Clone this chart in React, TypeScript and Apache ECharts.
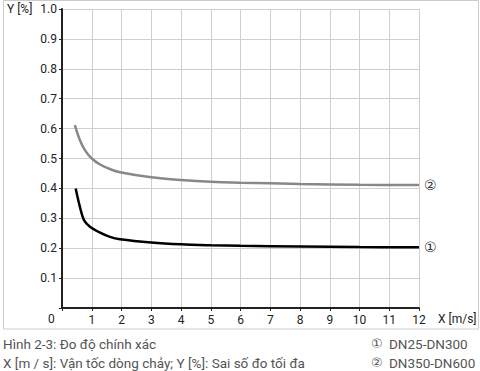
import React, { useEffect, useRef } from "react";
import * as echarts from "echarts";

const xTicks = [0, 1, 2, 3, 4, 5, 6, 7, 8, 9, 10, 11, 12];
const yTicks = [0, 0.1, 0.2, 0.3, 0.4, 0.5, 0.6, 0.7, 0.8, 0.9, 1.0];

const curve1X = [0.46, 0.6, 0.74, 0.94, 1.28, 1.61, 1.95, 3, 4, 5, 6, 8, 10, 12];
const curve1Y = [0.4, 0.339, 0.294, 0.272, 0.252, 0.238, 0.23, 0.219, 0.213, 0.21, 0.208, 0.206, 0.204, 0.203];

const curve2X = [0.43, 0.6, 0.77, 1.0, 1.28, 1.61, 1.95, 3, 4, 5, 6, 8, 10, 12];
const curve2Y = [0.612, 0.562, 0.528, 0.5, 0.48, 0.465, 0.454, 0.437, 0.428, 0.422, 0.419, 0.415, 0.412, 0.411];

const seriesNames = ["DN25-DN300", "DN350-DN600"];
const seriesMarks = ["①", "②"];

const FONT = "Roboto";

export default function App() {
  const ref = useRef<HTMLDivElement>(null);
  useEffect(() => {
    if (!ref.current) return;
    const chart = echarts.init(ref.current, null, { renderer: "svg" });
    const zip = (xs: number[], ys: number[]) => xs.map((x, i) => [x, ys[i]]);
    const endLabel = (mark: string) => ({
      show: true,
      formatter: mark,
      color: "#333",
      fontFamily: "DejaVu Sans",
      fontSize: 14,
      distance: 5,
    });
    const caption = { fontSize: 13.5, fontFamily: FONT, fill: "#555" };
    chart.setOption({
      animation: false,
      textStyle: { fontFamily: FONT },
      grid: { left: 62, top: 9, right: 61, bottom: 63 },
      xAxis: {
        type: "value",
        min: xTicks[0],
        max: xTicks[xTicks.length - 1],
        interval: 1,
        axisLine: { show: true, onZero: false, lineStyle: { color: "#222", width: 2 } },
        axisTick: { show: true, length: 3, lineStyle: { color: "#222" } },
        axisLabel: {
          color: "#222",
          fontSize: 12,
          fontFamily: FONT,
          margin: 6,
          formatter: (v: number) => (v === 0 ? "" : String(v)),
        },
        splitLine: { show: true, lineStyle: { color: "#cfcfcf", width: 1 } },
      },
      yAxis: {
        type: "value",
        min: yTicks[0],
        max: yTicks[yTicks.length - 1],
        interval: 0.1,
        axisLine: { show: true, onZero: false, lineStyle: { color: "#222", width: 2 } },
        axisTick: { show: true, length: 3, lineStyle: { color: "#222" } },
        axisLabel: {
          color: "#222",
          fontSize: 12,
          fontFamily: FONT,
          margin: 5,
          formatter: (v: number) => (v === 0 ? "" : v.toFixed(1)),
        },
        splitLine: { show: true, lineStyle: { color: "#cfcfcf", width: 1 } },
      },
      series: [
        {
          name: seriesNames[0],
          type: "line",
          data: zip(curve1X, curve1Y),
          smooth: 0.3,
          showSymbol: false,
          lineStyle: { color: "#000", width: 2.5 },
          endLabel: endLabel(seriesMarks[0]),
        },
        {
          name: seriesNames[1],
          type: "line",
          data: zip(curve2X, curve2Y),
          smooth: 0.3,
          showSymbol: false,
          lineStyle: { color: "#888", width: 2.5 },
          endLabel: endLabel(seriesMarks[1]),
        },
      ],
      graphic: [
        {
          type: "rect",
          shape: { x: 3.5, y: 0.5, width: 475, height: 328.5 },
          style: { fill: "none", stroke: "#cccccc", lineWidth: 1 },
          silent: true,
        },
        {
          type: "text",
          left: 7,
          top: 3,
          style: { text: "Y [%]", fontSize: 12, fontFamily: FONT, fill: "#222" },
        },
        {
          type: "text",
          left: 48,
          top: 313,
          style: { text: "0", fontSize: 12, fontFamily: FONT, fill: "#222" },
        },
        {
          type: "text",
          left: 438,
          top: 313,
          style: { text: "X [m/s]", fontSize: 12, fontFamily: FONT, fill: "#222" },
        },
        {
          type: "text",
          left: 3,
          top: 337,
          style: { text: "Hình 2-3: Đo độ chính xác", ...caption },
        },
        {
          type: "text",
          left: 3,
          top: 356,
          style: { text: "X [m / s]: Vận tốc dòng chảy; Y [%]: Sai số đo tối đa", ...caption },
        },
        {
          type: "text",
          left: 371,
          top: 337,
          style: { text: seriesMarks[0], ...caption, fontFamily: "DejaVu Sans", fontSize: 13 },
        },
        {
          type: "text",
          left: 389,
          top: 337,
          style: { text: seriesNames[0], ...caption },
        },
        {
          type: "text",
          left: 371,
          top: 356,
          style: { text: seriesMarks[1], ...caption, fontFamily: "DejaVu Sans", fontSize: 13 },
        },
        {
          type: "text",
          left: 389,
          top: 356,
          style: { text: seriesNames[1], ...caption },
        },
      ],
    });
    return () => chart.dispose();
  }, []);
  return <div ref={ref} style={{ width: 480, height: 371, position: "absolute", left: 0, top: 0 }} />;
}
